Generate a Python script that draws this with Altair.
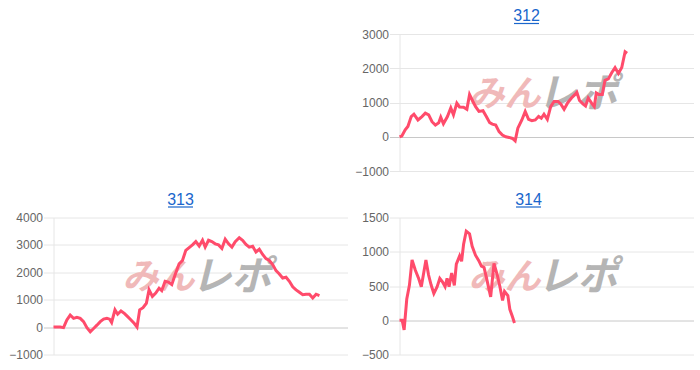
import altair as alt
import pandas as pd

# ---- data (games played vs. medal difference) ----
titles = ["312", "313", "314"]

p312_games = [0, 70, 170, 250, 350, 430, 550, 670, 770, 870,
              970, 1070, 1170, 1230, 1310, 1430, 1530, 1610, 1710, 1790,
              1910, 2010, 2090, 2190, 2270, 2370, 2490, 2590, 2690, 2770,
              2870, 2970, 3070, 3170, 3270, 3370, 3450, 3530, 3650, 3750,
              3850, 3950, 4050, 4150, 4230, 4310, 4410, 4510, 4610, 4730,
              4810, 4910, 5010, 5130, 5230, 5290, 5370, 5470, 5550, 5630,
              5730, 5810, 5870, 5950, 6050, 6130, 6230, 6330, 6430, 6530,
              6630, 6730, 6790]
p312_diff = [0, 20, 200, 300, 590, 660, 490, 590, 690, 640,
             440, 340, 410, 570, 380, 590, 840, 640, 980, 870,
             860, 800, 1230, 1030, 880, 740, 760, 590, 410, 370,
             340, 150, 50, 0, -20, -50, -120, 250, 490, 740,
             510, 470, 490, 590, 540, 660, 510, 880, 1030, 1030,
             960, 800, 980, 1130, 1230, 1300, 1060, 960, 900, 1130,
             980, 880, 1280, 1230, 1230, 1650, 1690, 1870, 2020, 1850,
             2020, 2480, 2440]

p313_games = [0, 100, 200, 300, 400, 500, 600, 700, 800, 900,
              1000, 1100, 1200, 1300, 1400, 1500, 1600, 1680, 1740, 1840,
              1920, 2020, 2120, 2220, 2320, 2420, 2500, 2580, 2680, 2780,
              2860, 2960, 3060, 3160, 3240, 3340, 3440, 3540, 3640, 3760,
              3860, 3960, 4060, 4160, 4260, 4360, 4460, 4540, 4640, 4740,
              4840, 4940, 5040, 5140, 5240, 5340, 5440, 5560, 5660, 5760,
              5860, 5960, 6060, 6160, 6260, 6360, 6460, 6560, 6660, 6760,
              6860, 6960, 7060, 7160, 7260, 7360, 7460, 7560, 7660, 7760,
              7860, 7960]
p313_diff = [0, 0, 0, -20, 260, 440, 320, 360, 320, 200,
             -20, -170, -50, 70, 200, 290, 320, 290, 170, 630,
             470, 590, 500, 380, 260, 130, 0, 630, 710, 870,
             1360, 1120, 1240, 1420, 1330, 1670, 1640, 1550, 1910, 2310,
             2430, 2800, 2900, 3000, 3120, 2960, 3170, 2920, 3170, 3120,
             3040, 3000, 2870, 3210, 3040, 2920, 3120, 3260, 3170, 3020,
             2920, 2950, 2740, 2840, 2650, 2500, 2430, 2280, 2060, 1940,
             1790, 1820, 1670, 1470, 1360, 1270, 1180, 1200, 1200, 1060,
             1200, 1150]

p314_games = [0, 80, 140, 220, 300, 380, 480, 580, 660, 740,
              800, 880, 960, 1040, 1140, 1220, 1300, 1380, 1440, 1500,
              1580, 1660, 1720, 1820, 1880, 1940, 2020, 2120, 2200, 2300,
              2400, 2480, 2560, 2660, 2760, 2860, 2960, 3040, 3120, 3180,
              3280, 3340, 3420, 3480]
p314_diff = [0, 0, -140, 310, 510, 880, 730, 610, 490, 710,
             880, 660, 510, 390, 490, 610, 560, 490, 610, 490,
             690, 510, 820, 940, 860, 1110, 1300, 1260, 1080, 950,
             870, 790, 770, 560, 340, 830, 660, 490, 290, 420,
             360, 160, 50, -40]

x_max = [8770, 8800, 8900]
ticks_312 = [-1000, 0, 1000, 2000, 3000]
ticks_313 = [-1000, 0, 1000, 2000, 3000, 4000]
ticks_314 = [-500, 0, 500, 1000, 1500]

watermark_a = "みん"
watermark_b = "レポ"

FONT = "Liberation Sans"
LINE = "#ff4b6b"
GRID = "#e6e6e6"
ZERO = "#c8c8c8"


def panel(title, xs, ys, xmax, ticks, w, h, axis_w):
    df = pd.DataFrame({"games": xs, "diff": ys})
    deco = pd.DataFrame({"t": [title]})
    x_enc = alt.X("games:Q", scale=alt.Scale(domain=[0, xmax], nice=False), axis=None)
    y_enc = alt.Y(
        "diff:Q",
        scale=alt.Scale(domain=[ticks[0], ticks[-1]], nice=False, zero=False),
        axis=alt.Axis(
            values=ticks, title=None, format="d",
            labelFont=FONT, labelFontSize=12, labelColor="#666666", labelPadding=1,
            tickSize=10,
            tickColor=alt.condition("datum.value === 0", alt.value(ZERO), alt.value(GRID)),
            gridColor=alt.condition("datum.value === 0", alt.value(ZERO), alt.value(GRID)),
            grid=True, domain=True, domainColor=GRID,
        ),
    )
    line = alt.Chart(df).mark_line(color=LINE, strokeWidth=3, strokeJoin="miter").encode(
        x=x_enc, y=y_enc
    )
    wm_a = alt.Chart(deco).mark_text(
        text=watermark_a, font="Noto Sans CJK JP", fontWeight="bold", fontStyle="italic",
        fontSize=36, color="#f0b9b9", align="right", baseline="middle",
    ).encode(x=alt.value(w / 2 - 6), y=alt.value(h / 2 - 8))
    wm_b = alt.Chart(deco).mark_text(
        text=watermark_b, font="Noto Sans CJK JP", fontWeight="bold", fontStyle="italic",
        fontSize=40, color="#b5b5b5", align="left", baseline="middle",
    ).encode(x=alt.value(w / 2 - 9), y=alt.value(h / 2 - 8))
    cx = w / 2 - axis_w / 2
    ttl = alt.Chart(deco).mark_text(
        font=FONT, fontSize=16, color="#1a66cc", align="center", baseline="alphabetic"
    ).encode(text="t:N", x=alt.value(cx), y=alt.value(-13))
    ul = alt.Chart(deco).mark_rule(color="#1a66cc", strokeWidth=1.2).encode(
        x=alt.value(cx - 12.5), x2=alt.value(cx + 12.5), y=alt.value(-10.5)
    )
    return alt.layer(wm_a, wm_b, line, ttl, ul).properties(width=w, height=h)


spacer = alt.Chart(pd.DataFrame({"games": [0], "diff": [0]})).mark_point(opacity=0).encode(
    x=alt.X("games:Q", axis=None), y=alt.Y("diff:Q", axis=None)
).properties(width=294, height=137)

c312 = panel(titles[0], p312_games, p312_diff, x_max[0], ticks_312, 294, 137, 40)
c313 = panel(titles[1], p313_games, p313_diff, x_max[1], ticks_313, 294, 137, 40)
c314 = panel(titles[2], p314_games, p314_diff, x_max[2], ticks_314, 294, 137, 36)

chart = alt.concat(
    spacer, c312, c313, c314, columns=2, spacing={"row": 14.5, "column": 7}
).properties(
    padding={"left": 8.5, "top": 8, "right": 0, "bottom": 0},
    background="white",
).configure_view(stroke=None)

chart.save("out.html", embed_options={"renderer": "svg", "actions": False})
